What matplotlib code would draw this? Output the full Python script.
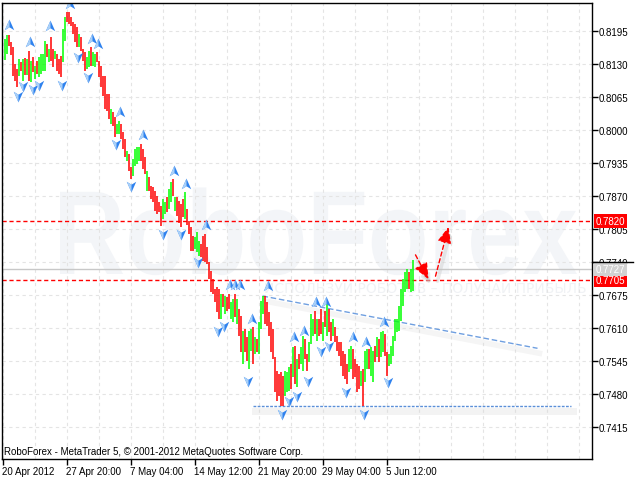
import matplotlib
matplotlib.use('Agg')
import matplotlib.pyplot as plt
import matplotlib.transforms as mtransforms
from matplotlib.font_manager import FontProperties
from matplotlib.patches import PathPatch
from matplotlib.path import Path
from matplotlib.textpath import TextPath

plt.rcParams['font.family'] = ['Liberation Sans', 'DejaVu Sans']

# H4-Kerzen (nur High/Low + Richtung), von links nach rechts
BAR_HIGH = [
    0.8179, 0.8187, 0.8187, 0.8173, 0.8163, 0.8130, 0.8120, 0.8140, 0.8134, 0.8140,
    0.8142, 0.8140, 0.8156, 0.8136, 0.8144, 0.8126, 0.8136, 0.8144, 0.8150, 0.8150,
    0.8175, 0.8169, 0.8159, 0.8183, 0.8159, 0.8156, 0.8150, 0.8140, 0.8146, 0.8199,
    0.8223, 0.8232, 0.8232, 0.8223, 0.8213, 0.8209, 0.8203, 0.8189, 0.8183, 0.8159,
    0.8154, 0.8144, 0.8156, 0.8163, 0.8154, 0.8150, 0.8154, 0.8136, 0.8126, 0.8106,
    0.8106, 0.8071, 0.8071, 0.8041, 0.8035, 0.8026, 0.8012, 0.8018, 0.8012, 0.7996,
    0.7982, 0.7959, 0.7953, 0.7927, 0.7943, 0.7962, 0.7966, 0.7966, 0.7972, 0.7962,
    0.7947, 0.7919, 0.7907, 0.7890, 0.7888, 0.7880, 0.7870, 0.7858, 0.7850, 0.7864,
    0.7858, 0.7868, 0.7884, 0.7897, 0.7903, 0.7868, 0.7868, 0.7860, 0.7854, 0.7864,
    0.7878, 0.7844, 0.7821, 0.7809, 0.7791, 0.7789, 0.7799, 0.7781, 0.7775, 0.7791,
    0.7795, 0.7769, 0.7740, 0.7722, 0.7706, 0.7687, 0.7691, 0.7687, 0.7677, 0.7677,
    0.7673, 0.7671, 0.7677, 0.7661, 0.7667, 0.7677, 0.7667, 0.7647, 0.7634, 0.7604,
    0.7608, 0.7592, 0.7604, 0.7608, 0.7612, 0.7592, 0.7588, 0.7622, 0.7663, 0.7673,
    0.7673, 0.7661, 0.7641, 0.7622, 0.7608, 0.7553, 0.7525, 0.7519, 0.7523, 0.7515,
    0.7525, 0.7523, 0.7533, 0.7539, 0.7572, 0.7574, 0.7549, 0.7559, 0.7572, 0.7594,
    0.7588, 0.7559, 0.7582, 0.7637, 0.7628, 0.7643, 0.7628, 0.7628, 0.7647, 0.7622,
    0.7643, 0.7663, 0.7647, 0.7622, 0.7628, 0.7612, 0.7594, 0.7582, 0.7582, 0.7565,
    0.7559, 0.7539, 0.7569, 0.7574, 0.7569, 0.7549, 0.7539, 0.7535, 0.7525, 0.7529,
    0.7565, 0.7569, 0.7569, 0.7572, 0.7565, 0.7574, 0.7592, 0.7588, 0.7602, 0.7604,
    0.7598, 0.7563, 0.7559, 0.7574, 0.7594, 0.7628, 0.7628, 0.7653, 0.7687, 0.7706,
    0.7720, 0.7726, 0.7720, 0.7726, 0.7744,
]
BAR_LOW = [
    0.8138, 0.8150, 0.8165, 0.8148, 0.8106, 0.8096, 0.8085, 0.8106, 0.8116, 0.8096,
    0.8108, 0.8108, 0.8096, 0.8094, 0.8114, 0.8100, 0.8110, 0.8104, 0.8110, 0.8116,
    0.8116, 0.8144, 0.8134, 0.8136, 0.8124, 0.8140, 0.8116, 0.8110, 0.8104, 0.8134,
    0.8175, 0.8213, 0.8209, 0.8205, 0.8189, 0.8173, 0.8163, 0.8163, 0.8156, 0.8136,
    0.8116, 0.8120, 0.8124, 0.8126, 0.8126, 0.8124, 0.8134, 0.8104, 0.8085, 0.8067,
    0.8041, 0.8037, 0.8022, 0.8012, 0.8008, 0.7986, 0.7992, 0.7992, 0.7982, 0.7962,
    0.7947, 0.7939, 0.7919, 0.7903, 0.7909, 0.7929, 0.7933, 0.7939, 0.7939, 0.7923,
    0.7913, 0.7880, 0.7880, 0.7864, 0.7858, 0.7840, 0.7834, 0.7838, 0.7811, 0.7825,
    0.7834, 0.7838, 0.7844, 0.7858, 0.7870, 0.7840, 0.7831, 0.7817, 0.7809, 0.7829,
    0.7825, 0.7813, 0.7795, 0.7762, 0.7762, 0.7765, 0.7760, 0.7752, 0.7750, 0.7742,
    0.7740, 0.7736, 0.7706, 0.7681, 0.7677, 0.7661, 0.7641, 0.7628, 0.7628, 0.7651,
    0.7637, 0.7643, 0.7647, 0.7628, 0.7622, 0.7632, 0.7618, 0.7594, 0.7563, 0.7539,
    0.7563, 0.7545, 0.7529, 0.7565, 0.7539, 0.7559, 0.7563, 0.7559, 0.7608, 0.7637,
    0.7618, 0.7614, 0.7594, 0.7563, 0.7549, 0.7484, 0.7466, 0.7476, 0.7456, 0.7456,
    0.7476, 0.7484, 0.7486, 0.7490, 0.7513, 0.7500, 0.7494, 0.7529, 0.7539, 0.7525,
    0.7549, 0.7525, 0.7543, 0.7578, 0.7594, 0.7598, 0.7584, 0.7594, 0.7598, 0.7584,
    0.7612, 0.7594, 0.7602, 0.7584, 0.7594, 0.7582, 0.7565, 0.7555, 0.7535, 0.7515,
    0.7509, 0.7500, 0.7523, 0.7529, 0.7509, 0.7513, 0.7484, 0.7490, 0.7496, 0.7456,
    0.7503, 0.7529, 0.7529, 0.7515, 0.7503, 0.7543, 0.7553, 0.7543, 0.7553, 0.7563,
    0.7555, 0.7515, 0.7535, 0.7539, 0.7555, 0.7584, 0.7602, 0.7604, 0.7624, 0.7653,
    0.7681, 0.7687, 0.7687, 0.7681, 0.7683,
]
# g = Bullen-Kerze, r = Baeren-Kerze
BAR_DIR = ("ggrrrrrgrg" "rgrgrgrggg" "grgrrgrrrg" "grrrrrrgrr" "rggrggrrrr"
           "rrrgrrggrr" "rgrrggggrr" "rgrrrrrrrg" "grggrgrrrr" "grrrrgggrr"
           "rrrrrrrrgr" "grrggrgrrg" "rrggrgrggg" "rrrrrrrrrr" "gggrgrgrgg"
           "rrgggrgrrg" "rgrrgrrrrr" "rrggrrrrgr" "ggrggrgrgg" "rrgggggggg"
           "ggrgg")

Y_TICKS = [0.8195, 0.8130, 0.8065, 0.8000, 0.7935, 0.7870, 0.7805,
           0.7740, 0.7675, 0.7610, 0.7545, 0.7480, 0.7415]
X_TICK_BARS = [-1, 31, 63, 95, 127, 159, 191]
X_TICK_LABELS = ['20 Apr 2012', '27 Apr 20:00', '7 May 04:00', '14 May 12:00',
                 '21 May 20:00', '29 May 04:00', '5 Jun 12:00']

# Fraktale (Pfeil-Mittelpunkt)
UP_FRACTAL_BAR = [2, 12.5, 22.5, 32.5, 43.5, 46.5, 57.5, 69, 84.5, 90.5, 100.5, 112.5,
                  115, 117.5, 123.5, 131.5, 144.5, 149.5, 155.5, 160.5, 174, 180.5, 189.5]
UP_FRACTAL_PRICE = [0.8207, 0.8173, 0.8205, 0.8248, 0.8179, 0.8169, 0.8035, 0.7990,
                    0.7919, 0.7894, 0.7813, 0.7695, 0.7695, 0.7695, 0.7628, 0.7693,
                    0.7592, 0.7604, 0.7661, 0.7661, 0.7592, 0.7582, 0.7622]
DOWN_FRACTAL_BAR = [6.5, 9, 14, 17, 28.5, 36.5, 41.5, 55.5, 63, 79, 88, 96.5, 106.5,
                    109.5, 121.5, 138.5, 142, 146, 151.5, 158, 162, 170.5, 179.5, 191.5]
DOWN_FRACTAL_PRICE = [0.8067, 0.8087, 0.8081, 0.8089, 0.8089, 0.8144, 0.8104, 0.7972,
                      0.7890, 0.7795, 0.7795, 0.7740, 0.7604, 0.7614, 0.7505, 0.7440,
                      0.7466, 0.7476, 0.7505, 0.7565, 0.7574, 0.7484, 0.7440, 0.7503]

RED_LEVELS = [0.7820, 0.7705]
LAST_PRICE = 0.7727
TREND_BARS = [129, 266.5]
TREND_PRICES = [0.7673, 0.7570]
SUPPORT_BARS = [124, 283]
SUPPORT_PRICE = 0.7456
ARROW_DOWN = [(205.5, 0.7754), (212, 0.7706)]
ARROW_UP = [(215.5, 0.7712), (222, 0.7809)]

UP_COLOR = '#00ff00'
DOWN_COLOR = '#ff0000'
GRID_COLOR = '#e4e4e4'
FS = 7

fig = plt.figure(figsize=(6.4, 4.81), dpi=100)
ax = fig.add_axes([2 / 640, 21 / 481, 590 / 640, 456 / 481])
ax.set_xlim(-1.25, 293.75)
ax.set_ylim(0.7352, 0.8250)

# Wasserzeichen
fp = FontProperties(family='Liberation Sans', weight='bold')
tp = TextPath((0, 0), 'RoboForex', size=100, prop=fp)
bb = tp.get_extents()
wm = mtransforms.Affine2D().translate(-bb.x0, 0).scale(517 / bb.width, 86 / 72).translate(60, 206)
ax.add_patch(PathPatch(tp, transform=wm, fc='#f3f5f8', ec='none', zorder=0, clip_on=False))
ax.text(587, 192, 'ИСПОЛЬЗУЙ РОБОТОВ – ПОЛУЧАЙ ПРИБЫЛЬ', transform=mtransforms.IdentityTransform(),
        ha='right', va='center', fontsize=10, color='#f0f2f5', family='DejaVu Sans', zorder=0)

# Gitter
for gx in range(-1, 294, 16):
    ax.axvline(gx, color=GRID_COLOR, lw=0.8, ls=(0, (3, 3)), zorder=1)
for gy in Y_TICKS:
    ax.axhline(gy, color=GRID_COLOR, lw=0.8, ls=(0, (3, 3)), zorder=1)

# Niveaus
ax.axhline(LAST_PRICE, color='#c8c8c8', lw=1, zorder=2)
for lvl in RED_LEVELS:
    ax.axhline(lvl, color='#ff0000', lw=1, ls=(0, (3, 2)), zorder=3)

# Trendlinie + Unterstuetzung mit weichem Schatten
shadow = mtransforms.offset_copy(ax.transData, fig=fig, x=2, y=-5, units='dots')
ax.plot(TREND_BARS, TREND_PRICES, color='#d8d8d8', lw=4, alpha=0.25, transform=shadow, zorder=2)
ax.plot(SUPPORT_BARS, [SUPPORT_PRICE] * 2, color='#d8d8d8', lw=5, alpha=0.3, transform=shadow, zorder=2)
ax.plot(TREND_BARS, TREND_PRICES, color='#6f9fe0', lw=1, ls=(0, (4, 2)), zorder=3)
ax.plot(SUPPORT_BARS, [SUPPORT_PRICE] * 2, color='#5b8fd8', lw=1, ls=(0, (2, 1)), zorder=3)

# Kerzen
idx = list(range(len(BAR_HIGH)))
colors = [UP_COLOR if d == 'g' else DOWN_COLOR for d in BAR_DIR]
ax.vlines(idx, BAR_LOW, BAR_HIGH, colors=colors, lw=1.1, zorder=4)

# Fraktal-Pfeile
C = [Path.MOVETO, Path.LINETO, Path.LINETO, Path.LINETO, Path.CLOSEPOLY]
C3 = [Path.MOVETO, Path.LINETO, Path.LINETO, Path.CLOSEPOLY]


def _arrow(s):
    full = Path([(0, s), (0.8, -0.8 * s), (0, -0.3 * s), (-0.8, -0.8 * s), (0, s)], C)
    half = Path([(0, s), (0, -0.3 * s), (-0.8, -0.8 * s), (0, s)], C3)
    return full, half


for bars, prices, s in [(UP_FRACTAL_BAR, UP_FRACTAL_PRICE, 1),
                        (DOWN_FRACTAL_BAR, DOWN_FRACTAL_PRICE, -1)]:
    full, half = _arrow(s)
    ax.scatter(bars, prices, marker=full, s=72, color='#2f82ee', lw=0, zorder=6)
    ax.scatter(bars, prices, marker=half, s=72, color='#a9d0f8', lw=0, zorder=7)

# rote Prognose-Pfeile
for (x0, y0), (x1, y1) in [ARROW_DOWN, ARROW_UP]:
    ax.annotate('', xy=(x1, y1), xytext=(x0, y0), xycoords=shadow, textcoords=shadow,
                arrowprops=dict(arrowstyle='-|>', color='#c4c4c4', lw=2.5, alpha=0.35,
                                mutation_scale=12, shrinkA=0, shrinkB=0), zorder=7)
    ax.annotate('', xy=(x1, y1), xytext=(x0, y0),
                arrowprops=dict(arrowstyle='-|>,head_length=0.7,head_width=0.3', color='#ff0000',
                                lw=1, ls=(0, (3, 2)), mutation_scale=14, shrinkA=0, shrinkB=0), zorder=8)

# Achsen
for sp in ax.spines.values():
    sp.set_color('black')
    sp.set_linewidth(1)
    sp.set_zorder(9)
ax.yaxis.tick_right()
ax.set_yticks(Y_TICKS)
ax.set_yticklabels([f'{v:.4f}' for v in Y_TICKS])
ax.set_xticks(X_TICK_BARS)
ax.set_xticklabels(X_TICK_LABELS, ha='left')
ax.tick_params(axis='both', length=4, width=1, direction='out', labelsize=FS, pad=1)

lbl = mtransforms.blended_transform_factory(ax.transAxes, ax.transData)
for lvl in RED_LEVELS:
    ax.text(1 + 4 / 590, lvl, f'{lvl:.4f}', transform=lbl, ha='left', va='center', color='white',
            fontsize=FS, bbox=dict(boxstyle='square,pad=0.2', fc='#ff0000', ec='none'),
            clip_on=False, zorder=10)
ax.text(1 + 4 / 590, LAST_PRICE, f'{LAST_PRICE:.4f}', transform=lbl, ha='left', va='center',
        color='white', fontsize=FS, bbox=dict(boxstyle='square,pad=0.2', fc='#d2d2d2', ec='none'),
        clip_on=False, zorder=10)
ax.plot([1.0, 1.07], [0.7740, 0.7740], transform=lbl, color='black', lw=1, clip_on=False, zorder=11)

ax.text(2 / 590, 0.018, 'RoboForex - MetaTrader 5, © 2001-2012 MetaQuotes Software Corp.',
        transform=ax.transAxes, ha='left', va='center', fontsize=FS, zorder=10)

fig.savefig('out.png', dpi=100)
